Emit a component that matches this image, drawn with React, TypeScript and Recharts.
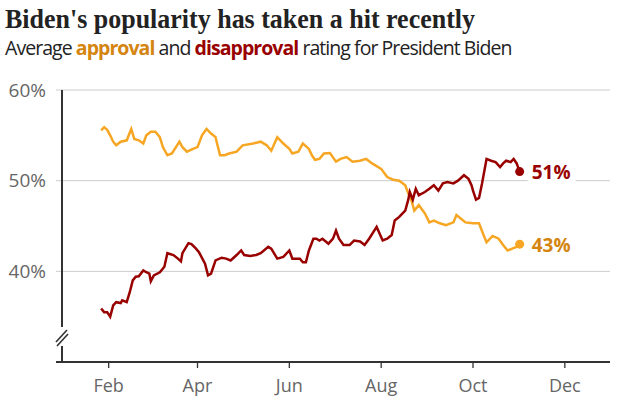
import React from 'react';
import { LineChart, Line, XAxis, YAxis, ReferenceLine } from 'recharts';

// days counted from 1 Jan 2021 (day 0)
const approvalDays = [26, 28, 30, 32, 34, 36, 39, 43, 46, 48, 51, 54, 56, 59, 62, 65, 67, 70, 73, 78, 80, 83, 87, 90, 93, 96, 99, 102, 103, 105, 108, 111, 116, 120, 127, 132, 136, 139, 143, 147, 151, 153, 157, 160, 164, 166, 168, 171, 174, 178, 182, 185, 189, 193, 198, 202, 206, 212, 216, 220, 224, 228, 230, 232, 234, 237, 241, 244, 247, 251, 255, 260, 262, 265, 268, 273, 277, 280, 282, 286, 290, 293, 296, 299, 302, 304];
const approvalValues = [55.55, 55.9, 55.6, 55.0, 54.3, 53.9, 54.3, 54.45, 55.7, 54.6, 54.45, 54.1, 55.0, 55.4, 55.4, 54.8, 53.7, 52.8, 53.0, 54.3, 53.7, 53.2, 53.5, 53.7, 55.0, 55.7, 55.2, 54.8, 54.1, 52.8, 52.8, 53.0, 53.2, 53.9, 54.1, 54.3, 53.9, 53.3, 54.8, 54.1, 53.5, 53.0, 53.2, 54.1, 53.5, 52.8, 52.3, 52.4, 53.0, 53.05, 52.1, 52.4, 52.6, 52.1, 52.2, 52.4, 51.9, 51.3, 50.4, 50.1, 50.0, 49.5, 48.6, 47.9, 46.7, 47.3, 46.4, 45.4, 45.6, 45.3, 45.1, 45.4, 46.2, 45.8, 45.4, 45.3, 45.3, 44.0, 43.2, 43.9, 43.6, 42.9, 42.3, 42.5, 42.7, 43.0];

const disapprovalDays = [26, 28, 30, 32, 34, 36, 39, 40, 43, 45, 47, 49, 51, 54, 56, 58, 59, 61, 65, 68, 70, 74, 77, 79, 80, 84, 86, 89, 91, 95, 97, 99, 102, 106, 109, 112, 116, 119, 121, 125, 129, 132, 137, 139, 143, 147, 151, 153, 158, 160, 162, 164, 167, 169, 171, 173, 177, 180, 182, 184, 187, 191, 194, 198, 201, 204, 209, 213, 216, 219, 221, 224, 228, 230, 231, 233, 235, 237, 241, 244, 247, 250, 253, 256, 260, 263, 267, 270, 272, 273, 275, 277, 279, 282, 285, 288, 291, 293, 295, 298, 300, 302, 304];
const disapprovalValues = [35.9, 35.5, 35.5, 35.0, 36.25, 36.6, 36.5, 36.8, 36.6, 37.7, 39.0, 39.4, 39.45, 40.1, 39.9, 39.75, 38.9, 39.55, 39.9, 40.5, 42.0, 41.8, 41.4, 41.1, 42.0, 43.1, 43.0, 42.5, 42.1, 40.85, 39.55, 39.75, 41.2, 41.5, 41.4, 41.2, 41.8, 42.3, 41.8, 41.7, 41.8, 42.0, 42.7, 42.5, 41.4, 41.6, 42.3, 41.4, 41.4, 41.0, 41.0, 42.3, 43.6, 43.6, 43.4, 43.6, 43.05, 43.6, 44.5, 43.6, 42.9, 42.9, 43.4, 43.3, 42.9, 43.6, 44.9, 43.4, 43.6, 44.0, 45.6, 46.0, 46.7, 47.9, 48.75, 47.9, 49.1, 48.4, 48.75, 49.1, 49.5, 48.9, 49.7, 49.85, 49.7, 50.0, 50.6, 50.2, 49.5, 48.9, 47.9, 48.1, 49.7, 52.4, 52.2, 52.05, 51.5, 51.9, 52.2, 52.05, 52.4, 51.9, 51.0];

const monthTicks = [31, 90, 151, 212, 273, 334];
const monthLabels = ['Feb', 'Apr', 'Jun', 'Aug', 'Oct', 'Dec'];
const yTicks = [40, 50, 60];
const gridValues = [40, 50, 60];

const approvalData = approvalDays.map((d, i) => ({ day: d, value: approvalValues[i] }));
const disapprovalData = disapprovalDays.map((d, i) => ({ day: d, value: disapprovalValues[i] }));

const APPROVAL = '#f6a623';
const APPROVAL_TEXT = '#d4850f';
const DISAPPROVAL = '#990000';
const SANS = '"Open Sans", "Noto Sans", sans-serif';

const makeDot = (color: string, last: number) => (props: any) => {
  const { cx, cy, index } = props;
  if (index !== last) return <g key={`d-${index}`} />;
  return <circle key={`d-${index}`} cx={cx} cy={cy} r={4.5} fill={color} />;
};

const makeLabel = (color: string, last: number) => (props: any) => {
  const { x, y, index, value } = props;
  if (index !== last) return <g key={`l-${index}`} />;
  return (
    <g key={`l-${index}`}>
      <rect x={x + 8} y={y - 13} width={48} height={26} fill="#fff" />
      <text x={x + 12} y={y + 1} dy="0.35em" fill={color} fontFamily={SANS} fontWeight={700} fontSize={19}>
        {Math.round(value)}%
      </text>
    </g>
  );
};

export default function App() {
  return (
    <div style={{ position: 'absolute', left: 0, top: 0, width: 620, height: 399, background: '#fff' }}>
      <LineChart
        width={620}
        height={399}
        margin={{ top: 90, right: 10, bottom: 7, left: 0 }}
      >
        <XAxis
          dataKey="day"
          type="number"
          domain={[0, 364]}
          ticks={monthTicks}
          tickFormatter={(v: number) => monthLabels[monthTicks.indexOf(v)] ?? ''}
          axisLine={false}
          tickLine={{ stroke: '#333', strokeWidth: 1.3 }}
          tickSize={6}
          tickMargin={11}
          height={30}
          tick={{ fill: '#666', fontSize: 18, fontFamily: SANS }}
          allowDataOverflow
        />
        <YAxis
          type="number"
          domain={[30, 60]}
          ticks={yTicks}
          tickFormatter={(v: number) => `${v}%`}
          axisLine={false}
          tickLine={false}
          tickSize={6}
          tickMargin={10}
          width={62}
          tick={{ fill: '#666', fontSize: 19, fontFamily: SANS }}
          allowDataOverflow
        />
        {gridValues.map((g) => (
          <ReferenceLine
            key={`g-${g}`}
            segment={[{ x: -4, y: g }, { x: 364, y: g }]}
            stroke="#cccccc"
            strokeWidth={1}
            ifOverflow="visible"
          />
        ))}
        <ReferenceLine segment={[{ x: -4, y: 30 }, { x: 364, y: 30 }]} stroke="#333" strokeWidth={2} ifOverflow="visible" />
        <ReferenceLine segment={[{ x: 0, y: 60 }, { x: 0, y: 33.86 }]} stroke="#333" strokeWidth={2} ifOverflow="visible" />
        <ReferenceLine segment={[{ x: 0, y: 31.76 }, { x: 0, y: 30 }]} stroke="#333" strokeWidth={2} ifOverflow="visible" />
        <ReferenceLine segment={[{ x: -3.99, y: 32.21 }, { x: 3.32, y: 33.53 }]} stroke="#333" strokeWidth={1.6} ifOverflow="visible" />
        <ReferenceLine segment={[{ x: -3.32, y: 31.76 }, { x: 3.99, y: 33.09 }]} stroke="#333" strokeWidth={1.6} ifOverflow="visible" />
        <Line
          data={approvalData}
          dataKey="value"
          type="linear"
          stroke={APPROVAL}
          strokeWidth={2.5}
          dot={makeDot(APPROVAL, approvalData.length - 1)}
          activeDot={false}
          label={makeLabel(APPROVAL_TEXT, approvalData.length - 1)}
          isAnimationActive={false}
        />
        <Line
          data={disapprovalData}
          dataKey="value"
          type="linear"
          stroke={DISAPPROVAL}
          strokeWidth={2.5}
          dot={makeDot(DISAPPROVAL, disapprovalData.length - 1)}
          activeDot={false}
          label={makeLabel(DISAPPROVAL, disapprovalData.length - 1)}
          isAnimationActive={false}
        />
      </LineChart>
      <svg width={620} height={70} style={{ position: 'absolute', left: 0, top: 0, pointerEvents: 'none' }}>
        <text
          x={5}
          y={28}
          fontFamily='"Liberation Serif", serif'
          fontWeight={700}
          fontSize={27}
          fill="#222"
          textLength={470}
          lengthAdjust="spacingAndGlyphs"
        >
          Biden's popularity has taken a hit recently
        </text>
        <text x={5} y={55} fontFamily={SANS} fontSize={19.5} fill="#222" letterSpacing={-0.95}>
          <tspan>Average </tspan>
          <tspan fill={APPROVAL_TEXT} fontWeight={700}>approval</tspan>
          <tspan> and </tspan>
          <tspan fill={DISAPPROVAL} fontWeight={700}>disapproval</tspan>
          <tspan> rating for President Biden</tspan>
        </text>
      </svg>
    </div>
  );
}
